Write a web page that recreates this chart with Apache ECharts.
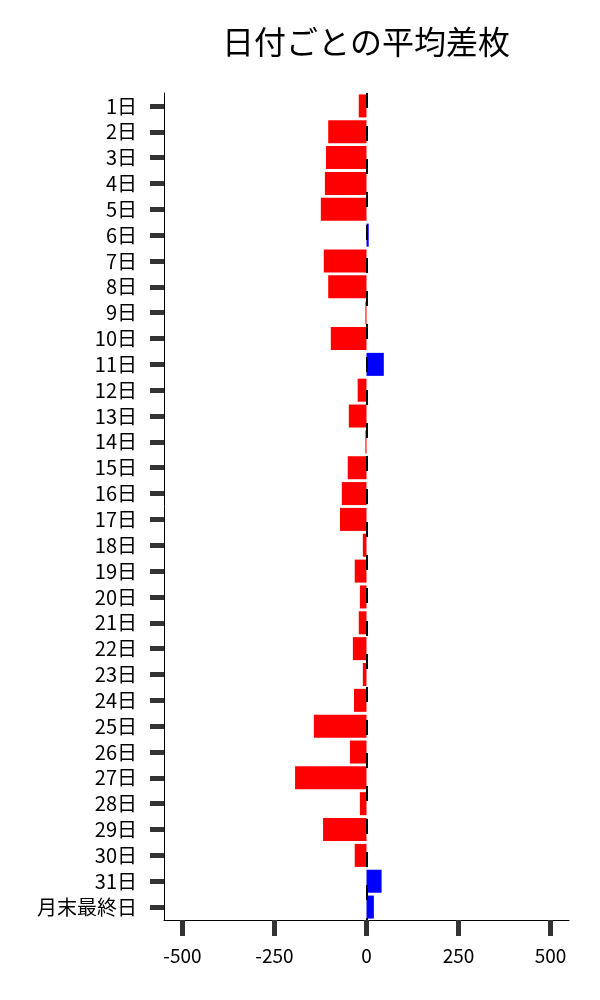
<!DOCTYPE html>
<html>
<head>
<meta charset="utf-8">
<script src="https://cdn.jsdelivr.net/npm/echarts@6/dist/echarts.min.js"></script>
<style>
html,body{margin:0;padding:0;background:#fff;}
#chart{width:600px;height:1000px;}
</style>
</head>
<body>
<div id="chart"></div>
<script>
const categories = ['1日','2日','3日','4日','5日','6日','7日','8日','9日','10日','11日','12日','13日','14日','15日','16日','17日','18日','19日','20日','21日','22日','23日','24日','25日','26日','27日','28日','29日','30日','31日','月末最終日'];
const values = [-21,-104,-110,-113,-124,6,-116,-104,-3,-97,47,-24,-48,-3,-51,-67,-72,-10,-32,-18,-21,-37,-10,-34,-143,-45,-194,-18,-118,-32,41,20];
const xTicks = [-500,-250,0,250,500];
const titleText = '日付ごとの平均差枚';

const FONT = '"Noto Sans CJK JP", "Noto Sans", sans-serif';
const chart = echarts.init(document.getElementById('chart'));
chart.setOption({
  animation: false,
  backgroundColor: '#fff',
  title: {
    text: titleText,
    left: 361, top: 21, textAlign: 'center',
    textStyle: {fontFamily: FONT, fontSize: 32, fontWeight: 'normal', color: '#000'}
  },
  grid: {left: 164, right: 31, top: 93, bottom: 80, containLabel: false},
  xAxis: {
    type: 'value', min: -550, max: 550,
    splitLine: {show: false},
    axisLine: {show: true, onZero: false, lineStyle: {color: '#000', width: 1}},
    axisTick: {show: true, length: 16, customValues: xTicks, lineStyle: {color: '#333', width: 5}},
    axisLabel: {customValues: xTicks, margin: 26, fontFamily: FONT, fontSize: 19, color: '#000'}
  },
  yAxis: {
    type: 'category', data: categories, inverse: true,
    axisLine: {show: true, onZero: false, lineStyle: {color: '#000', width: 1}},
    axisTick: {show: true, alignWithLabel: true, interval: 0, length: 14, lineStyle: {color: '#333', width: 5}},
    axisLabel: {interval: 0, hideOverlap: false, margin: 27, fontFamily: FONT, fontSize: 20, color: '#000'}
  },
  series: [{
    type: 'bar',
    data: values,
    barCategoryGap: '11%',
    itemStyle: {color: p => p.value >= 0 ? '#0000ff' : '#ff0000'},
    markLine: {
      silent: true, symbol: ['none','none'],
      label: {show: false},
      lineStyle: {color: '#000', width: 2, type: [15, 18]},
      data: [{xAxis: 0}]
    }
  }]
});
</script>
</body>
</html>
